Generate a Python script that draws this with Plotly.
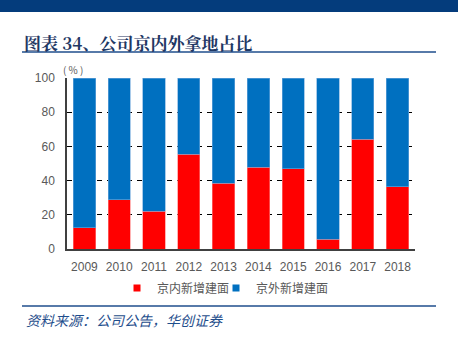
import plotly.graph_objects as go

years = ["2009", "2010", "2011", "2012", "2013", "2014", "2015", "2016", "2017", "2018"]
inner = [12.5, 28.7, 22.2, 55.4, 38.4, 47.8, 47.0, 5.8, 64.1, 36.3]
outer = [round(100 - v, 1) for v in inner]
yticks = [0, 20, 40, 60, 80, 100]
names = ["京内新增建面", "京外新增建面"]
colors = ["#FF0000", "#0070C0"]

W, H = 458, 347
L, R, T, B = 67, 415, 78, 249  # plot area pixel bounds

def px(x):
    return (x - L) / (R - L)

def py(y):
    return (B - y) / (B - T)

fig = go.Figure()
fig.add_trace(go.Bar(x=years, y=inner, name=names[0], showlegend=False,
                     marker=dict(color=colors[0], line=dict(color="#FF8080", width=0.6))))
fig.add_trace(go.Bar(x=years, y=outer, name=names[1], showlegend=False,
                     marker=dict(color=colors[1], line=dict(color="#6FA8DC", width=0.6))))
# legend entries with small square symbols, one per legend so they can be placed
for n, c, lg in zip(names, colors, ["legend", "legend2"]):
    fig.add_trace(go.Scatter(x=[None], y=[None], mode="markers", name=n, legend=lg,
                             marker=dict(symbol="square", size=7, color=c)))

font_cjk = "Noto Sans CJK SC"
leg_common = dict(orientation="h", yanchor="middle", y=py(288), xanchor="left",
                  font=dict(family=font_cjk, size=12, color="#595959"),
                  itemwidth=30, bgcolor="rgba(0,0,0,0)")
fig.update_layout(
    barmode="stack",
    bargap=0.36,
    width=W, height=H,
    margin=dict(l=L, r=W - R, t=T, b=H - B),
    paper_bgcolor="white", plot_bgcolor="white",
    font=dict(family="Liberation Sans, Arial", size=12, color="#595959"),
    showlegend=True,
    legend=dict(x=px(117), **leg_common),
    legend2=dict(x=px(216), **leg_common),
    xaxis=dict(showline=True, linecolor="#404040", linewidth=1.5, ticks="",
               tickfont=dict(size=12, color="#595959"), showgrid=False,
               ticklabelstandoff=6),
    yaxis=dict(range=[0, 100], tickvals=yticks, showline=True, linecolor="#404040", linewidth=1.5,
               showgrid=True, gridcolor="black", griddash="5px,5px", gridwidth=1,
               tickfont=dict(size=12, color="#595959"), ticks="", zeroline=False,
               ticklabelstandoff=8),
)

shapes = [
    dict(type="rect", xref="paper", yref="paper", x0=px(-2), x1=px(W + 2), y0=py(0 - 2), y1=py(12),
         fillcolor="#043C7C", line=dict(width=0), layer="above"),
    dict(type="line", xref="paper", yref="paper", x0=px(22), x1=px(436), y0=py(52), y1=py(52),
         line=dict(color="#1F4E8C", width=1.5)),
    dict(type="line", xref="paper", yref="paper", x0=px(22), x1=px(436), y0=py(306), y1=py(306),
         line=dict(color="#1F4E8C", width=1.5)),
]
fig.update_layout(shapes=shapes)

fig.add_annotation(text="<b>图表 34、公司京内外拿地占比</b>", xref="paper", yref="paper",
                   x=px(22), y=py(42), xanchor="left", yanchor="middle", showarrow=False,
                   font=dict(family="Noto Serif CJK SC, " + font_cjk, size=17, color="#1F3864"))
fig.add_annotation(text="( % )", xref="paper", yref="paper",
                   x=px(61), y=py(69), xanchor="left", yanchor="middle", showarrow=False,
                   font=dict(family=font_cjk, size=10, color="#595959"))
fig.add_annotation(text="<i>资料来源：公司公告，华创证券</i>", xref="paper", yref="paper",
                   x=px(24), y=py(320), xanchor="left", yanchor="middle", showarrow=False,
                   font=dict(family=font_cjk, size=14, color="#1F4E8C"))

fig.write_html("out.html")
